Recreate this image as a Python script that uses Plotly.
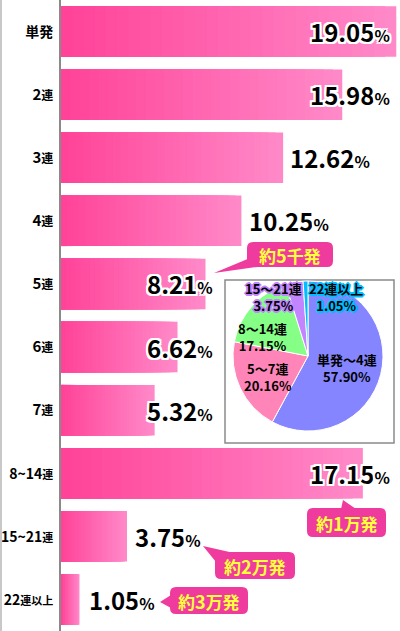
import plotly.graph_objects as go

# bar data
categories = ['単発', '2連', '3連', '4連', '5連', '6連', '7連', '8~14連', '15~21連', '22連以上']
values = [19.05, 15.98, 12.62, 10.25, 8.21, 6.62, 5.32, 17.15, 3.75, 1.05]

# pie data
pie_labels = ['単発～4連', '5～7連', '8～14連', '15～21連', '22連以上']
pie_values = [57.90, 20.16, 17.15, 3.75, 1.05]
pie_colors = ['#8585ff', '#ff85b8', '#85ff85', '#c285ff', '#00beff']

# callouts (row, text)
callouts = [('5連', '約5千発'), ('8~14連', '約1万発'), ('15~21連', '約2万発'), ('22連以上', '約3万発')]

W, H = 400, 631
L = 61
FONT = 'Noto Sans CJK JP'


def px(x):
    return (x - L) / (W - L)


def py(y):
    return 1 - y / H


def tick_html(lab):
    if all(ord(c) > 127 for c in lab):
        return f"<span style='font-size:14px'>{lab}</span>"
    long_lab = len(lab) > 4
    dsize = 14 if long_lab else 15
    ksize = 11 if long_lab else 12
    out = ''
    for c in lab:
        if ord(c) < 128:
            out += f"<span style='font-size:{dsize}px'>{c}</span>"
        else:
            out += f"<span style='font-size:{ksize}px'>{c}</span>"
    return out


fig = go.Figure()

# gradient bars: overlaid bars, lighter/longer first
N = 30
c0 = (255, 66, 152)
c1 = (255, 138, 201)
for k in range(N):
    f = (N - k) / N
    t = (N - k - 0.5) / N
    col = 'rgb(%d,%d,%d)' % tuple(round(a + (b - a) * t) for a, b in zip(c0, c1))
    fig.add_trace(go.Bar(
        y=categories, x=[v * f for v in values], orientation='h',
        marker=dict(color=col, line=dict(width=0)),
        showlegend=False, hoverinfo='skip'))

fig.add_trace(go.Pie(
    labels=pie_labels, values=pie_values, sort=False, direction='clockwise',
    rotation=0, textinfo='none', showlegend=False, hoverinfo='skip',
    marker=dict(colors=pie_colors, line=dict(color='white', width=1)),
    domain=dict(x=[px(233), px(383)], y=[py(431), py(281)])))

# percent labels
label_px = [308, 308, 288, 247, 145, 145, 145, 308, 133, 87]
scale = (W - L) / 19.26
outline = ', '.join(f'{a}px {b}px 0 #fff' for a, b in
                    [(2, 0), (-2, 0), (0, 2), (0, -2), (2, 2), (-2, -2), (2, -2), (-2, 2)])
annotations = []
for cat, v, lx in zip(categories, values, label_px):
    annotations.append(dict(
        x=(lx - L) / scale, y=cat, xref='x', yref='y', xanchor='left', yanchor='middle',
        text=f"{v:.2f}<span style='font-size:16px'>%</span>", showarrow=False,
        font=dict(family=FONT, size=24, color='black', weight='bold', shadow=outline)))

# callout bubbles
bubble_boxes = {
    '約5千発': ((247, 242, 333, 267), [(250, 258), (264, 266), (214, 273)]),
    '約1万発': ((307, 508, 386, 537), [(341, 509), (356, 509), (343, 500)]),
    '約2万発': ((215, 552, 295, 579), [(216, 562), (234, 553), (203, 546)]),
    '約3万発': ((170, 587, 248, 614), [(171, 595), (171, 608), (160, 602)]),
}
shapes = []
pink = '#ef3b9d'
for cat, txt in callouts:
    (x0, y0, x1, y1), tri = bubble_boxes[txt]
    r = 6
    path = (f'M{px(x0 + r)},{py(y0)} L{px(x1 - r)},{py(y0)} Q{px(x1)},{py(y0)} {px(x1)},{py(y0 + r)} '
            f'L{px(x1)},{py(y1 - r)} Q{px(x1)},{py(y1)} {px(x1 - r)},{py(y1)} '
            f'L{px(x0 + r)},{py(y1)} Q{px(x0)},{py(y1)} {px(x0)},{py(y1 - r)} '
            f'L{px(x0)},{py(y0 + r)} Q{px(x0)},{py(y0)} {px(x0 + r)},{py(y0)} Z')
    shapes.append(dict(type='path', path=path, xref='paper', yref='paper',
                       fillcolor=pink, line=dict(width=0), layer='above'))
    tp = 'M' + ' L'.join(f'{px(a)},{py(b)}' for a, b in tri) + ' Z'
    shapes.append(dict(type='path', path=tp, xref='paper', yref='paper',
                       fillcolor=pink, line=dict(width=0), layer='above'))
    t2 = ''.join(f"<span style='font-size:18px'>{c}</span>" if c.isdigit() else c for c in txt)
    annotations.append(dict(
        x=px((x0 + x1) / 2), y=py((y0 + y1) / 2), xref='paper', yref='paper',
        text=t2, showarrow=False, xanchor='center', yanchor='middle',
        font=dict(family=FONT, size=17, color='#ffff3a', weight='bold')))

# pie inset box
shapes.append(dict(type='rect', xref='paper', yref='paper',
                   x0=px(225), x1=px(394), y0=py(443), y1=py(280),
                   line=dict(color='#8a8a8a', width=1.5), fillcolor='white', layer='below'))
# left border of picture
shapes.append(dict(type='line', xref='paper', yref='paper',
                   x0=px(1), x1=px(1), y0=0, y1=1, line=dict(color='#c8c8c8', width=2)))

# pie labels
pie_text_pos = [(347, 368), (268, 377), (262, 337), (273, 297), (336, 297)]
pie_glow = [None, None, None, '#c285ff', '#00beff']
for lab, v, (cx, cy), g in zip(pie_labels, pie_values, pie_text_pos, pie_glow):
    sh = 'none'
    if g:
        sh = ', '.join(f'{a}px {b}px 0 {g}' for a, b in
                       [(2, 0), (-2, 0), (0, 2), (0, -2), (1, 1), (-1, -1), (1, -1), (-1, 1)])
    annotations.append(dict(
        x=px(cx), y=py(cy), xref='paper', yref='paper', showarrow=False,
        text=f'{lab}<br>{v:.2f}%', xanchor='center', yanchor='middle',
        font=dict(family=FONT, size=13, color='black', weight='bold', shadow=sh)))

fig.update_layout(
    width=W, height=H,
    margin=dict(l=L, r=0, t=0, b=0, autoexpand=False),
    paper_bgcolor='white', plot_bgcolor='white',
    barmode='overlay', bargap=0.2,
    xaxis=dict(range=[0, 19.26], visible=False, fixedrange=True),
    yaxis=dict(type='category', autorange='reversed', categoryorder='array',
               categoryarray=categories, tickvals=categories,
               ticktext=[tick_html(c) for c in categories], automargin=False,
               tickfont=dict(family=FONT, size=15, color='black', weight='bold'),
               showline=True, linecolor='#8a8a8a', linewidth=1.5,
               ticks='', showgrid=False, ticklabelstandoff=3, fixedrange=True),
    annotations=annotations, shapes=shapes,
)

# the page body has a default 8px margin; drop it so the figure sits at the corner
fig.write_html('out.html', config={'displayModeBar': False},
               post_script="document.body.style.margin='0';document.body.style.overflow='hidden';")
